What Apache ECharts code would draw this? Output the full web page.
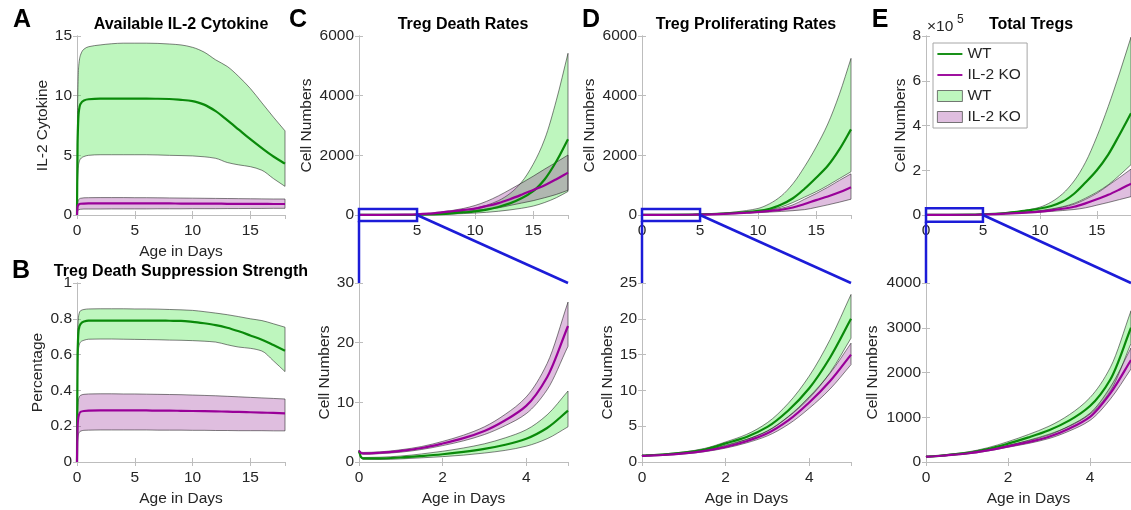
<!DOCTYPE html>
<html><head><meta charset="utf-8">
<script src="https://cdn.jsdelivr.net/npm/echarts@6/dist/echarts.min.js"></script>
<style>html,body{margin:0;padding:0;background:#fff}#c{width:1131px;height:510px}</style>
</head><body><div id="c"></div>
<script>
// ---------------- DATA ----------------
const tFull = [0, 0.05, 0.15, 0.3, 0.6, 1, 2, 3, 4, 5, 6, 7, 8, 9, 10, 11, 12, 13, 14, 15, 16, 17, 18];
// A: Available IL-2 cytokine
const il2WtMean = [0, 6.0, 8.6, 9.3, 9.6, 9.7, 9.75, 9.75, 9.75, 9.75, 9.75, 9.74, 9.72, 9.65, 9.55, 9.25, 8.7, 7.95, 7.15, 6.35, 5.6, 4.9, 4.3];
const il2WtHi   = [0, 9.0, 12.5, 13.4, 13.9, 14.1, 14.25, 14.35, 14.4, 14.4, 14.4, 14.38, 14.33, 14.25, 14.05, 13.65, 13.0, 12.45, 11.6, 10.6, 9.4, 8.2, 7.05];
const il2WtLo   = [0, 3.0, 4.3, 4.7, 4.9, 5.0, 5.05, 5.05, 5.05, 5.05, 5.05, 5.03, 5.0, 4.98, 4.95, 4.88, 4.75, 4.4, 4.2, 4.05, 3.75, 3.05, 2.4];
const il2KoMean = [0, 0.7, 0.88, 0.94, 0.96, 0.97, 0.98, 0.98, 0.98, 0.98, 0.97, 0.97, 0.97, 0.96, 0.96, 0.95, 0.95, 0.94, 0.94, 0.93, 0.93, 0.92, 0.92];
const il2KoHi   = [0, 1.0, 1.3, 1.4, 1.44, 1.45, 1.46, 1.46, 1.46, 1.45, 1.45, 1.44, 1.43, 1.42, 1.41, 1.4, 1.39, 1.38, 1.37, 1.36, 1.35, 1.34, 1.34];
const il2KoLo   = [0, 0.35, 0.45, 0.48, 0.5, 0.5, 0.5, 0.51, 0.51, 0.51, 0.51, 0.52, 0.52, 0.52, 0.53, 0.53, 0.53, 0.54, 0.54, 0.55, 0.55, 0.56, 0.56];
// B: Treg death suppression strength
const supWtMean = [0, 0.6, 0.74, 0.77, 0.785, 0.79, 0.79, 0.79, 0.79, 0.79, 0.79, 0.79, 0.789, 0.788, 0.783, 0.775, 0.765, 0.75, 0.73, 0.707, 0.683, 0.653, 0.622];
const supWtHi   = [0, 0.7, 0.82, 0.845, 0.852, 0.855, 0.856, 0.856, 0.856, 0.855, 0.855, 0.854, 0.852, 0.85, 0.847, 0.84, 0.832, 0.823, 0.812, 0.8, 0.79, 0.772, 0.753];
const supWtLo   = [0, 0.5, 0.64, 0.67, 0.68, 0.686, 0.687, 0.687, 0.686, 0.685, 0.684, 0.683, 0.681, 0.68, 0.678, 0.675, 0.67, 0.655, 0.642, 0.635, 0.62, 0.565, 0.505];
const supKoMean = [0, 0.2, 0.26, 0.28, 0.285, 0.287, 0.288, 0.288, 0.288, 0.288, 0.288, 0.287, 0.287, 0.286, 0.285, 0.284, 0.283, 0.281, 0.28, 0.278, 0.276, 0.274, 0.272];
const supKoHi   = [0, 0.28, 0.355, 0.372, 0.378, 0.38, 0.381, 0.381, 0.38, 0.38, 0.379, 0.378, 0.377, 0.376, 0.374, 0.372, 0.37, 0.367, 0.364, 0.361, 0.358, 0.355, 0.352];
const supKoLo   = [0, 0.12, 0.16, 0.172, 0.177, 0.178, 0.179, 0.179, 0.179, 0.179, 0.179, 0.178, 0.178, 0.178, 0.177, 0.177, 0.176, 0.176, 0.175, 0.175, 0.175, 0.174, 0.174];

const tGrowth = [0, 2, 4, 5, 6, 7, 8, 9, 10, 11, 12, 13, 14, 15, 16, 17, 18];
// C (top): Treg death rates
const deathWtMean = [1.8, 1.3, 3.9, 8.6, 17, 32, 55, 85, 120, 180, 270, 390, 560, 800, 1200, 1800, 2540];
const deathWtHi   = [1.9, 1.8, 5.4, 11.9, 24, 45, 85, 150, 230, 330, 480, 720, 1100, 1700, 2550, 3850, 5420];
const deathWtLo   = [1.7, 0.9, 2.65, 5.9, 11, 20, 32, 48, 65, 90, 125, 170, 225, 300, 420, 580, 790];
const deathKoMean = [1.9, 3.1, 9.4, 22.8, 45, 80, 125, 170, 215, 300, 400, 530, 680, 840, 1000, 1200, 1420];
const deathKoHi   = [2.0, 3.45, 10.9, 26.8, 55, 100, 150, 220, 320, 460, 640, 850, 1070, 1300, 1540, 1770, 2010];
const deathKoLo   = [1.8, 2.75, 8.1, 19.4, 37, 63, 95, 120, 155, 195, 240, 320, 400, 480, 580, 690, 830];
// D (top): Treg proliferating rates
const prolifWtMean = [0.9, 2.6, 10.3, 20, 33, 50, 75, 100, 140, 210, 350, 560, 880, 1250, 1650, 2200, 2870];
const prolifWtHi   = [0.95, 2.8, 12.0, 23.4, 40, 65, 100, 150, 220, 380, 640, 1050, 1620, 2280, 3050, 4050, 5250];
const prolifWtLo   = [0.85, 2.35, 8.9, 17.3, 27, 40, 58, 85, 120, 175, 270, 420, 600, 780, 990, 1220, 1450];
const prolifKoMean = [0.85, 2.1, 8.3, 15, 24, 36, 52, 75, 100, 135, 175, 250, 370, 500, 620, 760, 930];
const prolifKoHi   = [0.9, 2.26, 9.1, 16.6, 27, 41, 60, 87, 120, 165, 225, 340, 530, 720, 930, 1160, 1380];
const prolifKoLo   = [0.8, 1.94, 7.5, 13.6, 21, 31, 44, 60, 78, 98, 120, 145, 180, 255, 340, 430, 530];
// E (top): Total Tregs
const totalWtMean = [120, 410, 1250, 3000, 5500, 9000, 14000, 21000, 29000, 40000, 60000, 95000, 145000, 200000, 270000, 360000, 455000];
const totalWtHi   = [125, 455, 1440, 3380, 6000, 10000, 15500, 23000, 35000, 58000, 95000, 152000, 235000, 350000, 485000, 635000, 795000];
const totalWtLo   = [115, 365, 1070, 2650, 4500, 7000, 10000, 14000, 19500, 27000, 37000, 52000, 75000, 102000, 135000, 178000, 225000];
const totalKoMean = [120, 350, 1010, 2280, 3800, 5800, 8300, 11500, 15500, 21000, 28000, 37000, 52000, 70000, 90000, 114000, 140000];
const totalKoHi   = [125, 372, 1090, 2550, 4300, 6600, 9500, 13300, 18000, 25000, 35000, 48000, 70000, 97000, 132000, 168000, 205000];
const totalKoLo   = [115, 330, 930, 2080, 3400, 5100, 7200, 9700, 12500, 16000, 20000, 24500, 32000, 44000, 56000, 69000, 82000];

const tZoom = [0, 0.05, 0.1, 0.5, 1, 1.5, 2, 2.5, 3, 3.5, 4, 4.5, 5];
// C (bottom)
const zDeathWtMean = [1.8, 0.8, 0.6, 0.6, 0.75, 1.0, 1.3, 1.7, 2.2, 2.9, 3.9, 5.7, 8.6];
const zDeathWtHi   = [1.9, 0.95, 0.75, 0.8, 1.0, 1.35, 1.8, 2.35, 3.05, 4.05, 5.4, 7.9, 11.9];
const zDeathWtLo   = [1.7, 0.65, 0.45, 0.42, 0.52, 0.7, 0.9, 1.15, 1.5, 1.95, 2.65, 3.9, 5.9];
const zDeathKoMean = [1.9, 1.5, 1.45, 1.55, 1.85, 2.35, 3.1, 4.0, 5.2, 7.0, 9.4, 14.2, 22.8];
const zDeathKoHi   = [2.0, 1.65, 1.6, 1.7, 2.05, 2.6, 3.45, 4.5, 5.9, 8.0, 10.9, 16.5, 26.8];
const zDeathKoLo   = [1.8, 1.35, 1.3, 1.4, 1.65, 2.1, 2.75, 3.55, 4.6, 6.1, 8.1, 12.1, 19.4];
// D (bottom)
const zProlifWtMean = [0.9, 0.9, 0.92, 1.05, 1.3, 1.75, 2.6, 3.5, 4.9, 7.2, 10.3, 14.6, 20.0];
const zProlifWtHi   = [0.95, 0.95, 0.97, 1.12, 1.4, 1.9, 2.8, 3.85, 5.5, 8.2, 12.0, 17.1, 23.4];
const zProlifWtLo   = [0.85, 0.86, 0.88, 0.98, 1.2, 1.6, 2.35, 3.15, 4.3, 6.3, 8.9, 12.5, 17.3];
const zProlifKoMean = [0.85, 0.85, 0.87, 0.98, 1.2, 1.55, 2.1, 2.9, 4.0, 5.8, 8.3, 11.3, 15.0];
const zProlifKoHi   = [0.9, 0.9, 0.92, 1.04, 1.28, 1.66, 2.26, 3.13, 4.35, 6.35, 9.1, 12.4, 16.6];
const zProlifKoLo   = [0.8, 0.8, 0.82, 0.92, 1.12, 1.44, 1.94, 2.67, 3.65, 5.25, 7.5, 10.2, 13.6];
// E (bottom)
const zTotalWtMean = [120, 122, 124, 155, 205, 290, 410, 550, 710, 930, 1250, 1850, 3000];
const zTotalWtHi   = [125, 127, 129, 165, 222, 318, 455, 615, 800, 1060, 1440, 2120, 3380];
const zTotalWtLo   = [115, 117, 119, 145, 188, 262, 365, 485, 620, 800, 1070, 1590, 2650];
const zTotalKoMean = [120, 121, 122, 150, 190, 258, 350, 445, 565, 750, 1010, 1540, 2280];
const zTotalKoHi   = [125, 126, 127, 157, 200, 272, 372, 475, 605, 810, 1090, 1680, 2550];
const zTotalKoLo   = [115, 116, 117, 143, 180, 244, 330, 415, 525, 695, 930, 1410, 2080];

// Zoom box extents (data units of the upper panels)
const zoomBoxDays = [0, 5];
const zoomBoxC = [-200, 200], zoomBoxD = [-200, 200], zoomBoxE = [-30000, 30000];

// ---------------- STYLE / LAYOUT ----------------
const FONT = '"Liberation Sans", Arial, Helvetica, sans-serif';
const FS = 15.5;
const GREEN = '#0a8a0a', PURPLE = '#990099', BLUE = '#1c1cd8';
const FILL_WT = 'rgba(40,225,40,0.3)', FILL_KO = 'rgba(140,20,140,0.28)';
const EDGE = 'rgba(30,30,30,0.8)';
const AXIS = '#bdbdbd', TXT = '#262626';

const grids = [
  {left: 77, top: 36, width: 208, height: 179},
  {left: 77, top: 283, width: 208, height: 179},
  {left: 359, top: 36, width: 209, height: 179},
  {left: 359, top: 283, width: 209, height: 179},
  {left: 642, top: 36, width: 209, height: 179},
  {left: 642, top: 283, width: 209, height: 179},
  {left: 926, top: 36, width: 211, height: 179},
  {left: 926, top: 283, width: 211, height: 179}
];
const axisSpec = [
  {x: [0, 18, 5], y: [0, 15, 5], yName: 'IL-2 Cytokine', yGap: 25, xName: true},
  {x: [0, 18, 5], y: [0, 1, 0.2], yName: 'Percentage', yGap: 31, xName: true},
  {x: [0, 18, 5], y: [0, 6000, 2000], yName: 'Cell Numbers', yGap: 44, hideX0: true},
  {x: [0, 5, 2], y: [0, 30, 10], yName: 'Cell Numbers', yGap: 20, xName: true},
  {x: [0, 18, 5], y: [0, 6000, 2000], yName: 'Cell Numbers', yGap: 44},
  {x: [0, 5, 2], y: [0, 25, 5], yName: 'Cell Numbers', yGap: 26, xName: true},
  {x: [0, 18, 5], y: [0, 800000, 200000], yName: 'Cell Numbers', yGap: 17, scale: 1e5},
  {x: [0, 5, 2], y: [0, 4000, 1000], yName: 'Cell Numbers', yGap: 45, xName: true}
];

const panels = [
  {t: tFull, wt: [il2WtLo, il2WtMean, il2WtHi], ko: [il2KoLo, il2KoMean, il2KoHi]},
  {t: tFull, wt: [supWtLo, supWtMean, supWtHi], ko: [supKoLo, supKoMean, supKoHi]},
  {t: tGrowth, wt: [deathWtLo, deathWtMean, deathWtHi], ko: [deathKoLo, deathKoMean, deathKoHi]},
  {t: tZoom, wt: [zDeathWtLo, zDeathWtMean, zDeathWtHi], ko: [zDeathKoLo, zDeathKoMean, zDeathKoHi]},
  {t: tGrowth, wt: [prolifWtLo, prolifWtMean, prolifWtHi], ko: [prolifKoLo, prolifKoMean, prolifKoHi]},
  {t: tZoom, wt: [zProlifWtLo, zProlifWtMean, zProlifWtHi], ko: [zProlifKoLo, zProlifKoMean, zProlifKoHi]},
  {t: tGrowth, wt: [totalWtLo, totalWtMean, totalWtHi], ko: [totalKoLo, totalKoMean, totalKoHi]},
  {t: tZoom, wt: [zTotalWtLo, zTotalWtMean, zTotalWtHi], ko: [zTotalKoLo, zTotalKoMean, zTotalKoHi]}
];

// ---------------- HELPERS ----------------
const pairs = (t, v) => t.map((x, i) => [x, v[i]]);
// monotone cubic (Fritsch-Carlson) bezier segments through pixel points (x increasing)
function monoSegs(p) {
  const n = p.length, m = [], tg = [];
  for (let i = 0; i < n - 1; i++) {
    const dx = p[i + 1][0] - p[i][0];
    m.push(dx === 0 ? 0 : (p[i + 1][1] - p[i][1]) / dx);
  }
  for (let i = 0; i < n; i++) {
    if (i === 0) tg.push(m[0]);
    else if (i === n - 1) tg.push(m[n - 2]);
    else if (m[i - 1] * m[i] <= 0) tg.push(0);
    else {
      const h0 = p[i][0] - p[i - 1][0], h1 = p[i + 1][0] - p[i][0];
      const w1 = 2 * h1 + h0, w2 = h1 + 2 * h0;
      tg.push((w1 + w2) / (w1 / m[i - 1] + w2 / m[i]));
    }
  }
  const segs = [];
  for (let i = 0; i < n - 1; i++) {
    const dx = (p[i + 1][0] - p[i][0]) / 3;
    segs.push([p[i], [p[i][0] + dx, p[i][1] + tg[i] * dx], [p[i + 1][0] - dx, p[i + 1][1] - tg[i + 1] * dx], p[i + 1]]);
  }
  return segs;
}
const f = v => v.toFixed(2);
function forwardPath(segs) {
  return segs.map(s => `C${f(s[1][0])},${f(s[1][1])} ${f(s[2][0])},${f(s[2][1])} ${f(s[3][0])},${f(s[3][1])}`).join(' ');
}
function backwardPath(segs) {
  return segs.slice().reverse().map(s => `C${f(s[2][0])},${f(s[2][1])} ${f(s[1][0])},${f(s[1][1])} ${f(s[0][0])},${f(s[0][1])}`).join(' ');
}

// ---------------- BUILD ----------------
const xAxis = [], yAxis = [], series = [];
axisSpec.forEach((s, g) => {
  const common = {gridIndex: g, type: 'value', splitLine: {show: false},
    axisLine: {show: true, lineStyle: {color: AXIS, width: 1}},
    axisTick: {show: true, inside: true, length: 4, lineStyle: {color: AXIS}}};
  xAxis.push(Object.assign({}, common, {
    min: s.x[0], max: s.x[1], interval: s.x[2], position: 'bottom',
    axisLabel: {color: TXT, fontSize: FS, fontFamily: FONT, margin: 8, showMaxLabel: false,
      formatter: v => (s.hideX0 && v === 0) ? '' : String(v)},
    name: s.xName ? 'Age in Days' : '', nameLocation: 'middle', nameGap: 29,
    nameTextStyle: {color: TXT, fontSize: FS, fontFamily: FONT}
  }));
  xAxis.push(Object.assign({}, common, {
    min: s.x[0], max: s.x[1], interval: s.x[2], position: 'top', axisLabel: {show: false}
  }));
  yAxis.push(Object.assign({}, common, {
    min: s.y[0], max: s.y[1], interval: s.y[2], position: 'left',
    axisLabel: {color: TXT, fontSize: FS, fontFamily: FONT, margin: 5,
      formatter: v => s.scale ? String(Math.round(v / s.scale * 100) / 100) : String(Math.round(v * 100) / 100)},
    name: s.yName, nameLocation: 'middle', nameGap: s.yGap,
    nameTextStyle: {color: TXT, fontSize: FS, fontFamily: FONT}
  }));
  yAxis.push(Object.assign({}, common, {
    min: s.y[0], max: s.y[1], interval: s.y[2], position: 'right', axisLabel: {show: false}
  }));
});

function band(g, t, lo, hi, fill, name) {
  series.push({type: 'custom', name: name, xAxisIndex: 2 * g, yAxisIndex: 2 * g, silent: true, z: 2,
    color: fill, data: pairs(t, hi),
    renderItem: (params, api) => {
      if (params.dataIndex !== 0) return null;
      const up = t.map((x, i) => api.coord([x, hi[i]]));
      const dn = t.map((x, i) => api.coord([x, lo[i]]));
      const su = monoSegs(up), sd = monoSegs(dn);
      const last = dn[dn.length - 1];
      const d = `M${f(up[0][0])},${f(up[0][1])} ` + forwardPath(su) +
        ` L${f(last[0])},${f(last[1])} ` + backwardPath(sd) + ' Z';
      return {type: 'path', shape: {pathData: d}, style: {fill: fill, stroke: EDGE, lineWidth: 0.7}};
    }});
}
function mean(g, t, v, col, name) {
  series.push({type: 'custom', name: name, xAxisIndex: 2 * g, yAxisIndex: 2 * g, silent: true, z: 3,
    color: col, data: pairs(t, v),
    renderItem: (params, api) => {
      if (params.dataIndex !== 0) return null;
      const p = t.map((x, i) => api.coord([x, v[i]]));
      const d = `M${f(p[0][0])},${f(p[0][1])} ` + forwardPath(monoSegs(p));
      return {type: 'path', shape: {pathData: d}, style: {fill: 'none', stroke: col, lineWidth: 2.2, lineJoin: 'round'}};
    }});
}
panels.forEach((p, g) => {
  band(g, p.t, p.wt[0], p.wt[2], FILL_WT, 'WT ');
  band(g, p.t, p.ko[0], p.ko[2], FILL_KO, 'IL-2 KO ');
  mean(g, p.t, p.wt[1], GREEN, 'WT');
  mean(g, p.t, p.ko[1], PURPLE, 'IL-2 KO');
});

const letter = (text, left, top) => ({text, left, top, textAlign: 'center', padding: 0,
  textStyle: {fontSize: 25, fontWeight: 'bold', color: '#000', fontFamily: FONT}});
const ptitle = (text, left, top) => ({text, left, top, textAlign: 'center', padding: 0,
  textStyle: {fontSize: 16, fontWeight: 'bold', color: '#000', fontFamily: FONT}});

const chart = echarts.init(document.getElementById('c'), null, {renderer: 'canvas'});
chart.setOption({
  animation: false,
  backgroundColor: '#fff',
  textStyle: {fontFamily: FONT},
  title: [
    letter('A', 22, 8), letter('B', 21, 259), letter('C', 298, 8), letter('D', 591, 8), letter('E', 880, 8),
    ptitle('Available IL-2 Cytokine', 181, 17),
    ptitle('Treg Death Suppression Strength', 181, 264),
    ptitle('Treg Death Rates', 463, 17),
    ptitle('Treg Proliferating Rates', 746, 17),
    ptitle('Total Tregs', 1031, 17)
  ],
  legend: {
    left: 933, top: 43, orient: 'vertical', selectedMode: false, z: 20,
    itemWidth: 25, itemHeight: 11, itemGap: 5, padding: [3, 2, 3, 4],
    borderColor: '#a6a6a6', borderWidth: 1, backgroundColor: '#fff',
    textStyle: {fontSize: FS, color: TXT, fontFamily: FONT},
    data: [
      {name: 'WT', icon: 'path://M0,0H40V3H0Z', itemStyle: {color: GREEN, borderWidth: 0}},
      {name: 'IL-2 KO', icon: 'path://M0,0H40V3H0Z', itemStyle: {color: PURPLE, borderWidth: 0}},
      {name: 'WT ', icon: 'rect', itemStyle: {color: FILL_WT, borderColor: '#555', borderWidth: 0.8}},
      {name: 'IL-2 KO ', icon: 'rect', itemStyle: {color: FILL_KO, borderColor: '#555', borderWidth: 0.8}}
    ]
  },
  grid: grids.map(g => Object.assign({containLabel: false}, g)),
  xAxis, yAxis, series
});

// Zoom indicators (blue box + connectors), positioned through the axes' own scales
const els = [];
[[2, 3, zoomBoxC, 30], [4, 5, zoomBoxD, 25], [6, 7, zoomBoxE, 4000]].forEach(([gt, gb, box, ymaxB]) => {
  const a = chart.convertToPixel({gridIndex: gt}, [zoomBoxDays[0], box[0]]);
  const b = chart.convertToPixel({gridIndex: gt}, [zoomBoxDays[1], box[1]]);
  const mid = chart.convertToPixel({gridIndex: gt}, [zoomBoxDays[1], 0]);
  const bl = chart.convertToPixel({gridIndex: gb}, [zoomBoxDays[0], ymaxB]);
  const br = chart.convertToPixel({gridIndex: gb}, [zoomBoxDays[1], ymaxB]);
  els.push({type: 'rect', z: 100, shape: {x: a[0], y: b[1], width: b[0] - a[0], height: a[1] - b[1]},
    style: {fill: null, stroke: BLUE, lineWidth: 2.5}});
  els.push({type: 'line', z: 100, shape: {x1: a[0], y1: a[1], x2: bl[0], y2: bl[1]}, style: {stroke: BLUE, lineWidth: 2.5}});
  els.push({type: 'line', z: 100, shape: {x1: mid[0], y1: mid[1], x2: br[0], y2: br[1]}, style: {stroke: BLUE, lineWidth: 2.5}});
});
// exponent label of panel E upper y axis
const ePos = chart.convertToPixel({gridIndex: 6}, [0, 800000]);
els.push({type: 'text', z: 100, x: ePos[0] + 1, y: ePos[1] - 17, style: {text: '×10', fill: TXT, font: '15.5px ' + FONT}});
els.push({type: 'text', z: 100, x: ePos[0] + 31, y: ePos[1] - 22, style: {text: '5', fill: TXT, font: '12px ' + FONT}});
chart.setOption({graphic: {elements: els}});
</script></body></html>
